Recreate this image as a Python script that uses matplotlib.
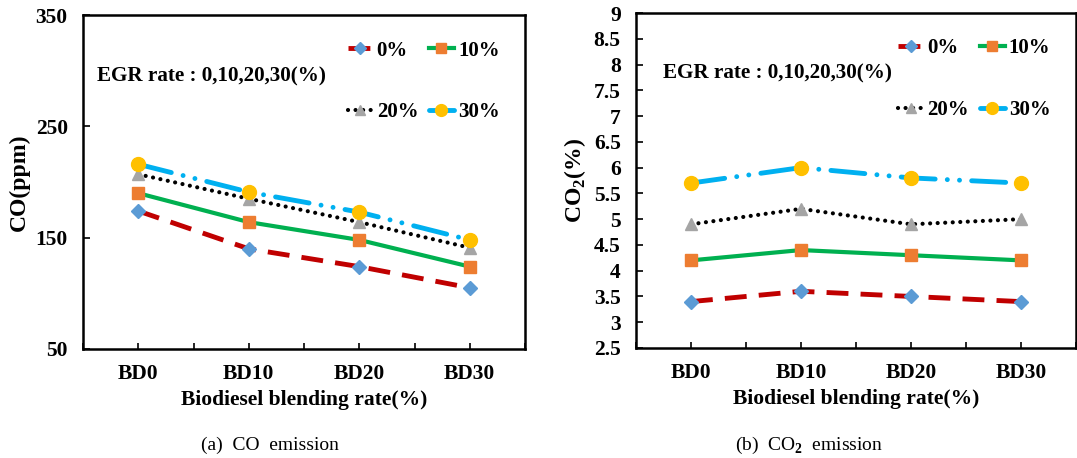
import matplotlib
matplotlib.use("Agg")
import matplotlib.pyplot as plt

plt.rcParams['font.family'] = ['Liberation Serif', 'DejaVu Serif']
plt.rcParams['font.weight'] = 'bold'
plt.rcParams['mathtext.fontset'] = 'custom'
plt.rcParams['mathtext.rm'] = 'Liberation Serif'
plt.rcParams['mathtext.bf'] = 'Liberation Serif:bold'

categories = ["BD0", "BD10", "BD20", "BD30"]
egr_labels = ["0%", "10%", "20%", "30%"]

co_0 = [174, 140, 124, 105]
co_10 = [190, 164, 148, 124]
co_20 = [207, 185, 164, 141]
co_30 = [216, 191, 173, 148]

co2_0 = [3.4, 3.6, 3.5, 3.4]
co2_10 = [4.2, 4.4, 4.3, 4.2]
co2_20 = [4.9, 5.2, 4.9, 5.0]
co2_30 = [5.7, 6.0, 5.8, 5.7]

co_ticks = [50, 150, 250, 350]
co2_ticks = [2.5, 3, 3.5, 4, 4.5, 5, 5.5, 6, 6.5, 7, 7.5, 8, 8.5, 9]

styles = [
    dict(color='#C00000', lw=3.5, dashes=(4.5, 2.5), marker='D', ms=7,
         mfc='#5B9BD5', mec='#5B9BD5'),
    dict(color='#00B050', lw=3, linestyle='-', marker='s', ms=9,
         mfc='#ED7D31', mec='#ED7D31'),
    dict(color='black', lw=3, dashes=(0.01, 1.8), dash_capstyle='round',
         marker='^', ms=9, mfc='#A5A5A5', mec='#A5A5A5'),
    dict(color='#00B0F0', lw=3.5, dashes=(7, 2.5, 0.01, 2.5, 0.01, 2.5),
         dash_capstyle='round', marker='o', ms=10, mfc='#FFC000', mec='#FFC000'),
]

fig = plt.figure(figsize=(10.77, 4.58), dpi=100)
ax1 = fig.add_axes([0.0771, 0.238, 0.4104, 0.729])
ax2 = fig.add_axes([0.5905, 0.2402, 0.4085, 0.7314])

x = list(range(len(categories)))

def draw(ax, series, ticks, ylim, ylabel):
    lines = []
    for vals, lab, st in zip(series, egr_labels, styles):
        lines += ax.plot(x, vals, label=lab, **st)
    ax.set_xlim(-0.5, 3.5)
    ax.set_ylim(*ylim)
    ax.set_yticks(ticks)
    ax.set_yticklabels([f"{t:g}" for t in ticks], fontsize=15.5, fontweight='bold')
    ax.set_xticks(x)
    ax.set_xticklabels(categories, fontsize=15.5, fontweight='bold')
    ax.set_xticks([-0.5, 0.5, 1.5, 2.5, 3.5], minor=True)
    ax.tick_params(axis='x', which='both', direction='in', length=4, width=1.2, pad=11)
    ax.tick_params(axis='y', direction='in', length=5, width=1.2, pad=11)
    for sp in ax.spines.values():
        sp.set_linewidth(1.8)
    ax.set_xlabel("Biodiesel blending rate(%)", fontsize=15.5, fontweight='bold', labelpad=4)
    ax.set_ylabel(ylabel, fontsize=17, fontweight='bold', labelpad=4)
    # row 1: 0%, 10%; row 2: 20%, 30%
    order = [0, 2, 1, 3]
    leg = ax.legend([lines[i] for i in order], [egr_labels[i] for i in order],
                    ncol=2, loc='upper right', bbox_to_anchor=(0.985, 0.98),
                    frameon=False, handlelength=1.2, handletextpad=0.2,
                    columnspacing=0.5, labelspacing=2.0,
                    prop=dict(family='Liberation Serif', weight='bold', size=15))
    for h in leg.legend_handles:
        h.set_markersize(h.get_markersize() * 0.85)
    return leg

draw(ax1, [co_0, co_10, co_20, co_30], co_ticks, (50, 350), "CO(ppm)")
draw(ax2, [co2_0, co2_10, co2_20, co2_30], co2_ticks, (2.5, 9), r"CO$_\mathbf{2}$(%)")

ax1.text(0.032, 0.815, "EGR rate : 0,10,20,30(%)", transform=ax1.transAxes,
         fontsize=15.2, fontweight='bold', va='center', ha='left')
ax2.text(0.062, 0.82, "EGR rate : 0,10,20,30(%)", transform=ax2.transAxes,
         fontsize=15.2, fontweight='bold', va='center', ha='left')

fig.text(270 / 1077, 1 - 445 / 458, "(a)  CO  emission", fontsize=14,
         fontweight='normal', ha='center', va='center')
fig.text(809 / 1077, 1 - 445 / 458, r"(b)  CO$_\mathrm{2}$  emission", fontsize=14,
         fontweight='normal', ha='center', va='center')

fig.savefig("out.png", dpi=100)
